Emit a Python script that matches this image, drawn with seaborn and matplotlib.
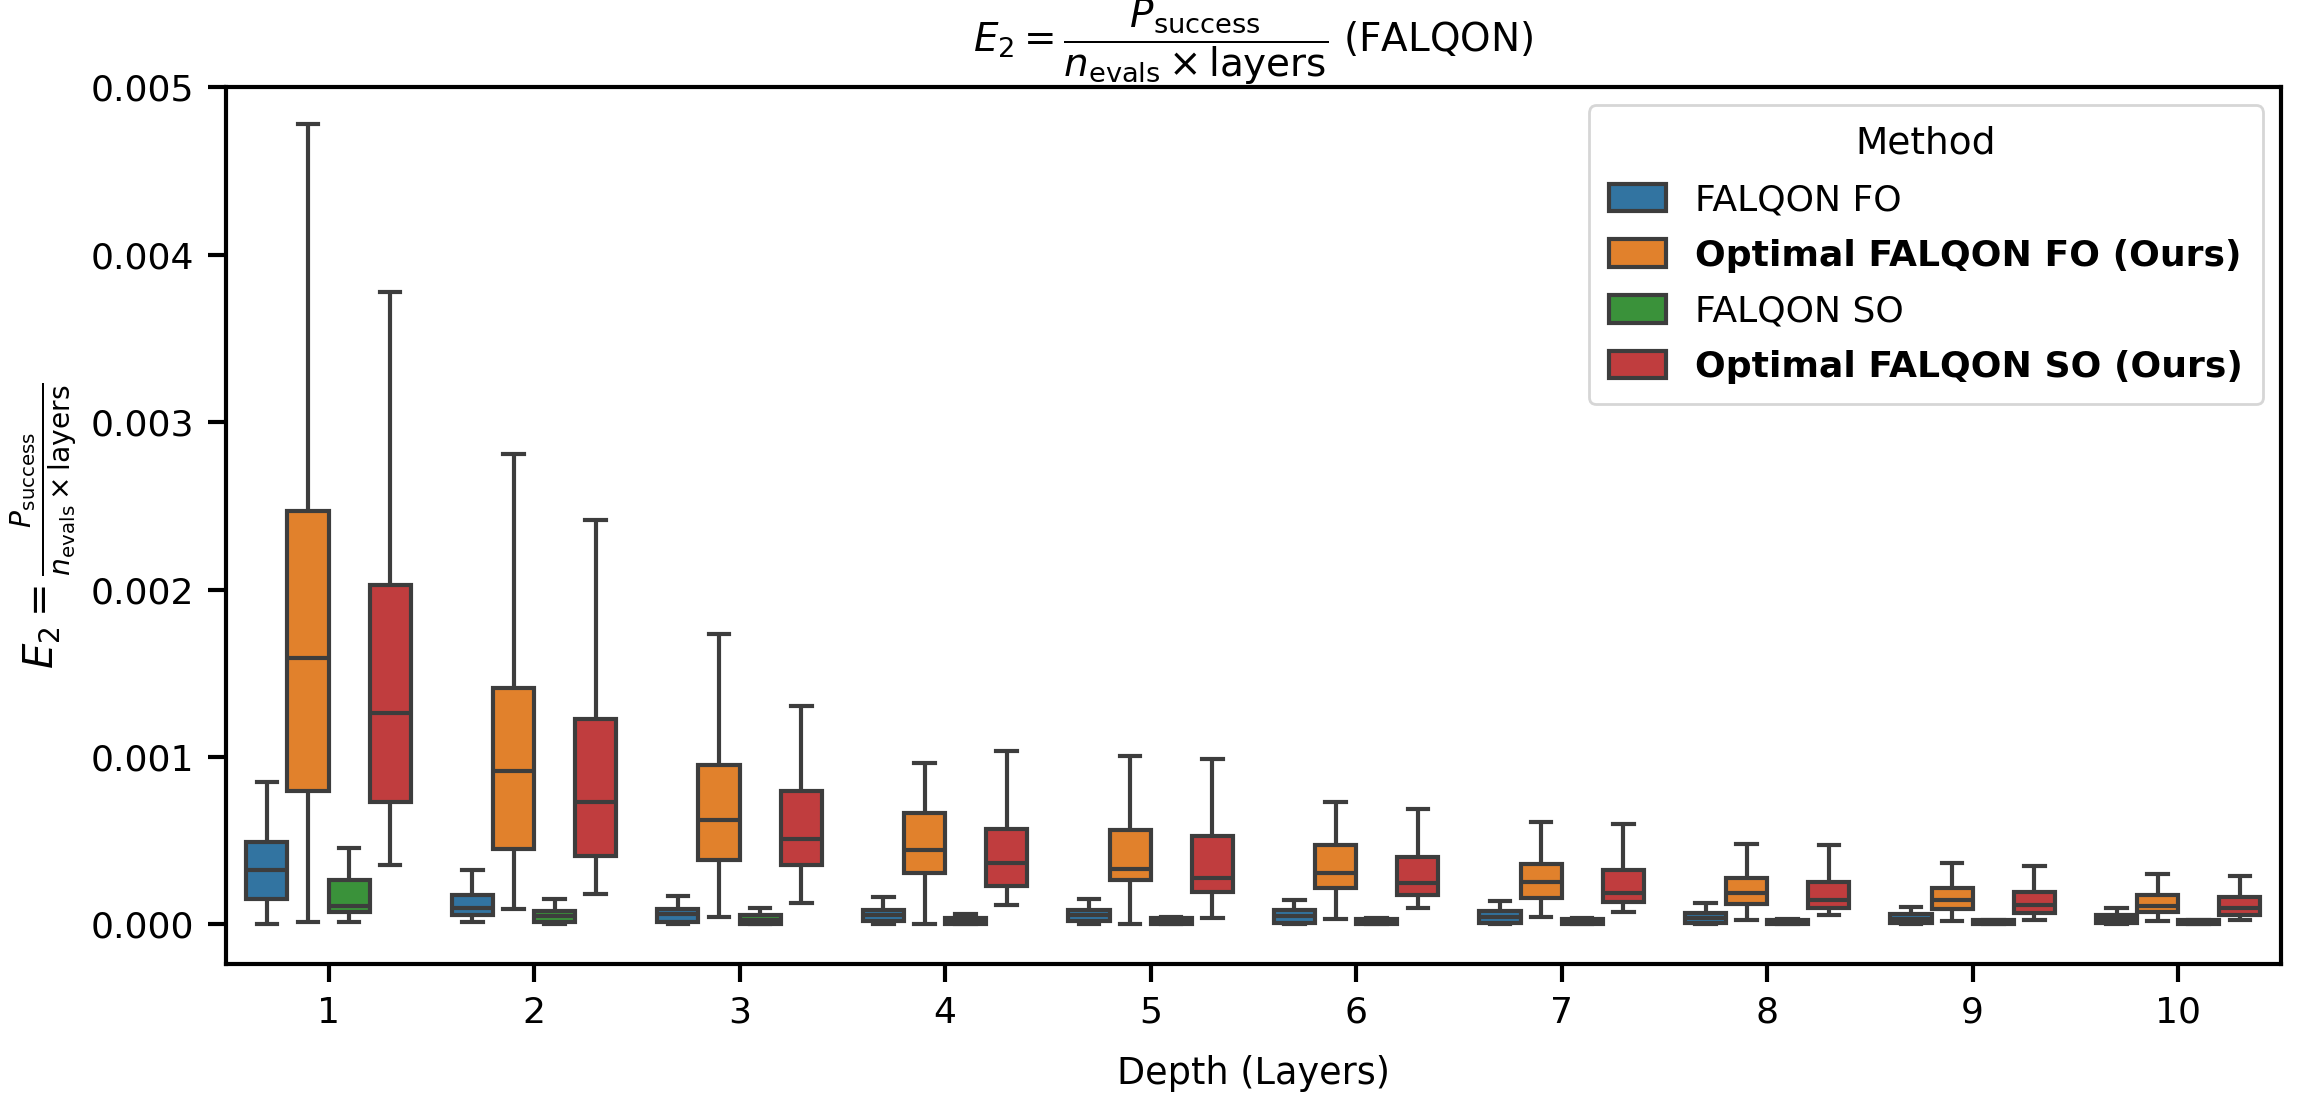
import matplotlib
matplotlib.use("Agg")
import matplotlib.pyplot as plt
import numpy as np
import pandas as pd
import seaborn as sns

# Depth categories and method names
depths = [1, 2, 3, 4, 5, 6, 7, 8, 9, 10]
methods = ["FALQON FO", "Optimal FALQON FO (Ours)", "FALQON SO", "Optimal FALQON SO (Ours)"]

# Five-number summaries: [low, q1, median, q3, high] per depth
falqon_fo = [
    [0.0, 0.000154, 0.000326, 0.000495, 0.000853],
    [0.000017, 0.000053, 0.000100, 0.000173, 0.000322],
    [0.0, 0.000017, 0.000060, 0.000090, 0.000168],
    [0.0, 0.000020, 0.000055, 0.000088, 0.000162],
    [0.0, 0.000020, 0.000055, 0.000084, 0.000154],
    [0.0, 0.000010, 0.000050, 0.000084, 0.000143],
    [0.0, 0.000010, 0.000046, 0.000078, 0.000137],
    [0.0, 0.000010, 0.000036, 0.000070, 0.000126],
    [0.0, 0.000010, 0.000030, 0.000063, 0.000105],
    [0.0, 0.000010, 0.000030, 0.000057, 0.000099],
]
optimal_fo = [
    [0.000017, 0.000796, 0.001594, 0.002470, 0.004780],
    [0.000093, 0.000453, 0.000916, 0.001415, 0.002810],
    [0.000046, 0.000385, 0.000621, 0.000954, 0.001733],
    [0.000004, 0.000309, 0.000446, 0.000663, 0.000962],
    [0.000002, 0.000263, 0.000333, 0.000564, 0.001004],
    [0.000032, 0.000215, 0.000305, 0.000474, 0.000733],
    [0.000042, 0.000158, 0.000253, 0.000362, 0.000611],
    [0.000027, 0.000120, 0.000189, 0.000274, 0.000478],
    [0.000021, 0.000090, 0.000143, 0.000215, 0.000366],
    [0.000021, 0.000074, 0.000112, 0.000175, 0.000303],
]
falqon_so = [
    [0.000017, 0.000074, 0.000110, 0.000263, 0.000457],
    [0.0, 0.000017, 0.000050, 0.000080, 0.000154],
    [0.0, 0.0, 0.000025, 0.000053, 0.000100],
    [0.0, 0.0, 0.000020, 0.000040, 0.000059],
    [0.0, 0.0, 0.000015, 0.000036, 0.000042],
    [0.0, 0.0, 0.000012, 0.000033, 0.000038],
    [0.0, 0.0, 0.000012, 0.000032, 0.000036],
    [0.0, 0.0, 0.000010, 0.000028, 0.000032],
    [0.0, 0.0, 0.000010, 0.000026, 0.000028],
    [0.0, 0.0, 0.000010, 0.000025, 0.000027],
]
optimal_so = [
    [0.000354, 0.000733, 0.001263, 0.002025, 0.003780],
    [0.000179, 0.000411, 0.000733, 0.001227, 0.002415],
    [0.000130, 0.000354, 0.000509, 0.000794, 0.001307],
    [0.000116, 0.000232, 0.000364, 0.000568, 0.001036],
    [0.000038, 0.000196, 0.000274, 0.000526, 0.000987],
    [0.000095, 0.000173, 0.000246, 0.000404, 0.000691],
    [0.000074, 0.000133, 0.000189, 0.000326, 0.000600],
    [0.000053, 0.000095, 0.000147, 0.000253, 0.000472],
    [0.000027, 0.000070, 0.000116, 0.000196, 0.000347],
    [0.000025, 0.000053, 0.000095, 0.000164, 0.000288],
]

# Build long-form table (5 points per box reproduce the summary with whis=(0, 100))
rows = []
for method, stats in zip(methods, [falqon_fo, optimal_fo, falqon_so, optimal_so]):
    for depth, five in zip(depths, stats):
        for v in five:
            rows.append({"Depth": depth, "Method": method, "E2": v})
df = pd.DataFrame(rows)

plt.rcParams["font.family"] = ["DejaVu Sans"]
fig, ax = plt.subplots(figsize=(11.52, 5.465), dpi=200)
fig.subplots_adjust(left=0.098, right=0.990, bottom=0.118, top=0.920)

sns.boxplot(data=df, x="Depth", y="E2", hue="Method", hue_order=methods,
            whis=(0, 100), linewidth=1.5, width=0.8, ax=ax)

ax.set_ylim(-0.000237, 0.005)
ax.set_yticks([0.0, 0.001, 0.002, 0.003, 0.004, 0.005])
ax.set_yticklabels(["0.000", "0.001", "0.002", "0.003", "0.004", "0.005"])
ax.tick_params(axis="both", labelsize=13, length=6.5, width=1.5, pad=5)
for spine in ax.spines.values():
    spine.set_linewidth(1.5)

ax.set_title(r"$E_2 = \dfrac{P_{\mathrm{success}}}{n_{\mathrm{evals}} \times \mathrm{layers}}$ (FALQON)",
             fontsize=14, pad=3)
ax.set_xlabel("Depth (Layers)", fontsize=13.2, labelpad=9)
ax.set_ylabel(r"$E_2 = \frac{P_{\mathrm{success}}}{n_{\mathrm{evals}} \times \mathrm{layers}}$", fontsize=14.5)

leg = ax.legend(title="Method", loc="upper right", fontsize=13, title_fontsize=13.5,
                handlelength=1.6, handleheight=0.8, labelspacing=0.6, borderpad=0.55)
for text in leg.get_texts():
    if "Ours" in text.get_text():
        text.set_fontweight("bold")

fig.savefig("out.png", dpi=200)
